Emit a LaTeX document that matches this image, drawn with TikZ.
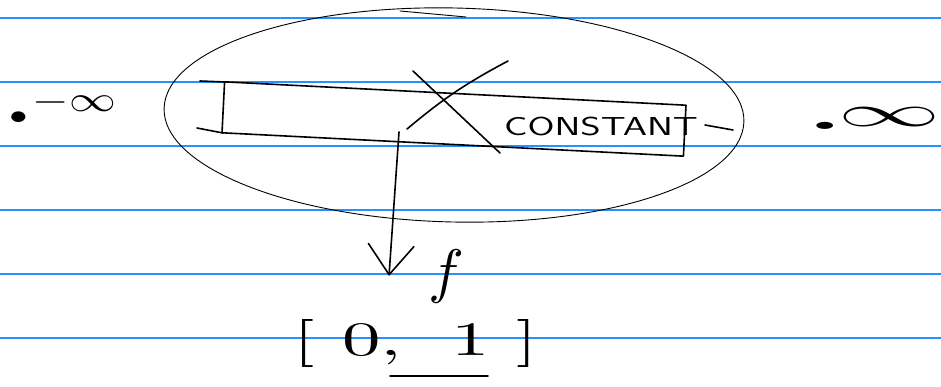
\documentclass[tikz,border=0pt]{standalone}
\usepackage{amsmath}
\usepackage{xcolor}
\usetikzlibrary{shapes.geometric,arrows.meta}

\definecolor{ruleblue}{RGB}{40,145,255}
\tikzset{
	ink/.style={line width=1.6pt,line cap=round,line join=round},
	paperline/.style={ruleblue,line width=1.2pt},
}

\begin{document}
\begin{tikzpicture}[x=1pt,y=-1pt]
	\useasboundingbox (0,0) rectangle (941,387);
	% ruled paper
	\foreach \y in {18,82,...,338}
		\draw[paperline] (0,\y) -- (941,\y);

	% the real line
	\node[anchor=base west,inner sep=0,xscale=4.68,yscale=3.6] (minf) at (8,112)
		{\raisebox{-3.3pt}{$\scriptstyle\bullet$}\hspace{1pt}$-\infty$};
	\node[anchor=base west,inner sep=0,xscale=10.2,yscale=4.4] (pinf) at (812,127)
		{\raisebox{-0.9pt}{\scalebox{0.42}{$\bullet$}}\hspace{0.3pt}$\infty$};

	\node[draw,ellipse,line width=0.9pt,inner sep=0,minimum width=580pt,minimum height=214pt,rotate=-1.3] (dom) at (454,115) {};
	\draw[line width=0.9pt,line cap=round] (400,11) -- (466,17);

	\node[draw,ink,inner sep=0,minimum width=462pt,minimum height=51pt,rotate=-2.9] (band) at (454,119) {};
	\draw[ink] (225,82) -- (200,81);
	\draw[ink] (223,133) -- (197,128);
	\node[xscale=1.5,font=\sffamily\fontsize{26}{26}\selectfont] (const) at (601,126) {CONSTANT};
	\draw[ink] (705,125) -- (733,130);

	% crossed out
	\draw[ink] (413,71) -- (500,153);
	\draw[ink] (407,129) to[bend left=6] (508,61);

	% map down to the range
	\coordinate (tail) at (399,132);
	\coordinate (tip) at (389,276);
	\draw[ink,-{Straight Barb[length=30pt,width=46pt,line width=1.6pt]}] (tail) -- (tip);
	\node[scale=6] (flab) at (446,276) {$f$};

	\node[xscale=7.68,yscale=4.8] (range) at (416,343)
		{$[\hspace{3.5pt}0,\hspace{4.8pt}1\hspace{3.5pt}]$};
	\draw[ink] (390,376) -- (488,376);
\end{tikzpicture}
\end{document}
